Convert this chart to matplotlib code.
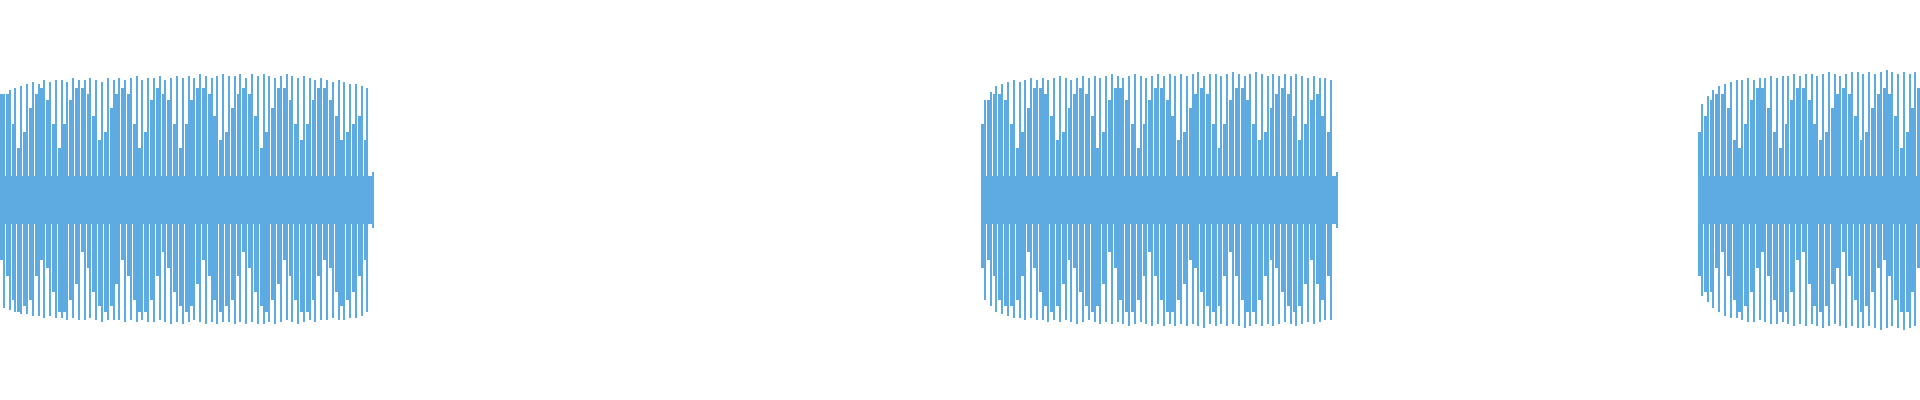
#-----------------------------------------------------------------#
# Forma de onda (tres ráfagas)
#-----------------------------------------------------------------#
import numpy as np
import matplotlib.pyplot as plt

#-----------------------------------------------------------------#
# Datos: amplitud en % (100 = media altura), tiempo en ms

t_total = 1920
burst_start = [0.0, 981.0, 1698.0]
stripe_ms = 5.77
band = 12

# rafaga 1
b1_peak_top = [53, 55, 56, 57, 58, 59, 58, 60, 59, 60,
               60, 59, 61, 60, 60, 61, 60, 59, 61, 60,
               61, 60, 61, 62, 60, 61, 61, 62, 60, 61,
               62, 61, 62, 61, 63, 62, 61, 62, 63, 62,
               62, 63, 61, 63, 62, 63, 62, 61, 62, 63,
               62, 61, 62, 61, 60, 61, 60, 59, 60, 59,
               58, 58, 57, 56, 14]
b1_shoulder_top = [53, 53, 38, 26, 34, 46, 53,
                   56, 50, 38, 26, 38, 50, 56,
                   56, 53, 42, 30, 34, 46, 53,
                   56, 53, 38, 26, 34, 50, 56,
                   53, 50, 38, 26, 38, 50, 56,
                   56, 53, 42, 30, 34, 46, 53,
                   56, 53, 42, 26, 34, 46, 56,
                   56, 50, 38, 30, 38, 50, 56,
                   56, 50, 42, 30, 34, 38, 42,
                   30, 12]
b1_peak_bot = [54, 55, 56, 57, 57, 58, 58, 59, 58, 59,
               59, 60, 59, 60, 60, 59, 60, 61, 60, 60,
               60, 61, 60, 61, 60, 61, 61, 60, 61, 62,
               61, 62, 61, 60, 61, 62, 61, 62, 61, 61,
               62, 61, 62, 61, 62, 62, 61, 62, 61, 60,
               61, 62, 61, 60, 61, 60, 60, 59, 60, 60,
               59, 59, 58, 56, 14]
b1_shoulder_bot = [30, 38, 50, 56, 53, 50, 38,
                   30, 34, 46, 56, 56, 50, 42,
                   26, 34, 46, 53, 56, 53, 42,
                   30, 38, 50, 56, 56, 50, 38,
                   26, 34, 46, 53, 56, 53, 42,
                   30, 38, 50, 56, 53, 50, 38,
                   26, 34, 46, 53, 56, 50, 42,
                   30, 38, 50, 56, 56, 50, 38,
                   30, 34, 46, 53, 50, 46, 38,
                   30, 12]

# rafaga 2
b2_peak_top = [50, 54, 57, 58, 59, 60, 59, 60, 61, 60,
               61, 60, 61, 62, 61, 60, 61, 62, 61, 62,
               61, 62, 63, 62, 61, 62, 63, 62, 61, 62,
               63, 62, 63, 62, 63, 62, 63, 64, 62, 63,
               63, 62, 63, 64, 63, 62, 63, 64, 63, 62,
               63, 62, 63, 62, 63, 62, 61, 62, 61, 61,
               60, 14]
b2_shoulder_top = [38, 50, 53, 53, 50, 38, 26,
                   34, 46, 56, 56, 53, 42, 30,
                   34, 46, 53, 56, 53, 42, 26,
                   34, 50, 56, 56, 50, 38, 26,
                   38, 50, 56, 56, 50, 42, 30,
                   34, 46, 53, 56, 53, 38, 26,
                   38, 50, 56, 56, 50, 38, 30,
                   34, 46, 53, 56, 53, 42, 30,
                   38, 50, 53, 42, 34, 12]
b2_peak_bot = [50, 53, 56, 57, 58, 59, 59, 60, 59, 60,
               60, 61, 60, 61, 60, 61, 62, 61, 60, 61,
               62, 61, 62, 61, 62, 63, 62, 61, 62, 63,
               62, 63, 62, 63, 62, 63, 62, 63, 64, 62,
               63, 62, 63, 62, 63, 64, 63, 62, 63, 62,
               63, 62, 61, 62, 63, 62, 61, 62, 61, 60,
               60, 14]
b2_shoulder_bot = [34, 30, 38, 50, 53, 53, 50,
                   38, 26, 34, 46, 53, 56, 53,
                   42, 30, 34, 46, 53, 56, 53,
                   42, 26, 34, 50, 56, 56, 50,
                   38, 26, 38, 50, 56, 56, 50,
                   42, 30, 34, 46, 53, 56, 53,
                   38, 26, 38, 50, 56, 56, 50,
                   38, 30, 34, 46, 53, 56, 53,
                   42, 30, 42, 50, 38, 12]

# rafaga 3
b3_peak_top = [48, 52, 55, 57, 58, 59, 60, 60, 61, 60,
               61, 61, 62, 61, 62, 62, 63, 62, 63, 63,
               62, 63, 64, 63, 62, 63, 64, 64, 63, 64,
               63, 64, 65, 64, 63, 64, 63, 64, 63]
b3_shoulder_top = [34, 42, 50, 53, 53, 46, 30,
                   26, 38, 50, 56, 56, 46, 34,
                   26, 38, 50, 56, 56, 50, 38,
                   30, 34, 46, 53, 56, 53, 42,
                   30, 34, 46, 53, 56, 53, 42,
                   26, 34, 46, 56]
b3_peak_bot = [48, 51, 54, 56, 58, 59, 59, 60, 61, 61,
               60, 61, 62, 62, 61, 62, 63, 62, 63, 62,
               63, 64, 63, 62, 63, 64, 63, 64, 64, 63,
               64, 65, 64, 63, 64, 65, 64, 63, 64]
b3_shoulder_bot = [38, 46, 46, 34, 26, 38, 50,
                   56, 53, 46, 34, 26, 38, 50,
                   56, 56, 46, 30, 26, 42, 53,
                   56, 53, 42, 34, 26, 38, 50,
                   56, 53, 46, 34, 30, 38, 50,
                   56, 56, 46, 34]

bursts = [
    (b1_peak_top, b1_shoulder_top, b1_peak_bot, b1_shoulder_bot),
    (b2_peak_top, b2_shoulder_top, b2_peak_bot, b2_shoulder_bot),
    (b3_peak_top, b3_shoulder_top, b3_peak_bot, b3_shoulder_bot),
]

#-----------------------------------------------------------------#
color = '#5DABE1'
sh_w = 2.9   # ancho del hombro
pk_w = 2.0   # ancho del pico

fig = plt.figure(figsize=(19.2, 4), dpi=100)
ax = fig.add_axes([0, 0, 1, 1])

for start, (pk_top, sh_top, pk_bot, sh_bot) in zip(burst_start, bursts):
    pk_top = np.array(pk_top)
    sh_top = np.array(sh_top)
    pk_bot = np.array(pk_bot)
    sh_bot = np.array(sh_bot)
    x = start + np.arange(len(pk_top)) * stripe_ms
    # hombro (bloque ancho) y pico (linea fina)
    ax.bar(x, sh_top + sh_bot, bottom=-sh_bot, width=sh_w, align='edge',
           color=color, linewidth=0, antialiased=False)
    ax.bar(x + sh_w, pk_top + pk_bot, bottom=-pk_bot, width=pk_w, align='edge',
           color=color, linewidth=0, antialiased=False)
    # banda central
    ax.fill_between([x[0], x[-1] + sh_w + pk_w], -band, band, color=color,
                    linewidth=0, antialiased=False)

ax.set_xlim(0, t_total)
ax.set_ylim(-100, 100)
ax.axis('off')

fig.savefig('out.png', dpi=100, facecolor='white')
